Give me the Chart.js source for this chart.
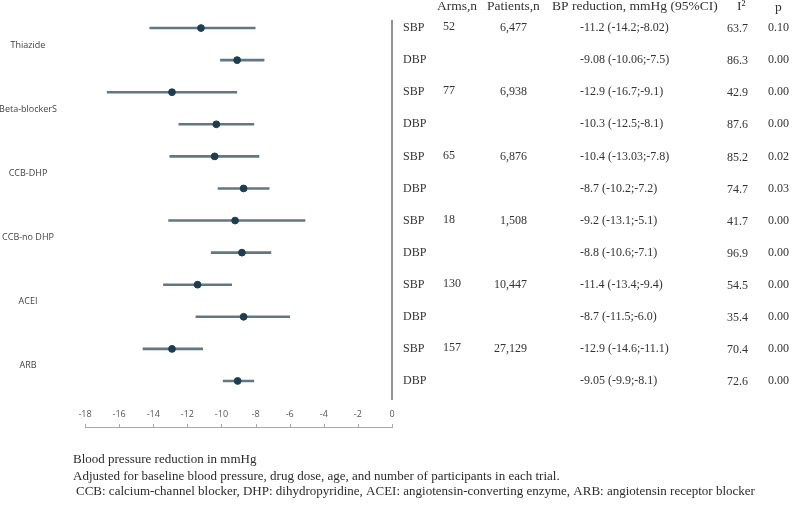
<!DOCTYPE html>
<html>
<head>
<meta charset="utf-8">
<script src="https://cdn.jsdelivr.net/npm/chart.js@4.4.1/dist/chart.umd.min.js"></script>
<style>
  body { margin: 0; background: #fff; }
  #wrap { width: 800px; height: 516px; position: relative; }
</style>
</head>
<body>
<div id="wrap"><canvas id="forest"></canvas></div>
<script>
// drug classes, two rows each (SBP then DBP)
const groups = ['Thiazide', 'Beta-blockerS', 'CCB-DHP', 'CCB-no DHP', 'ACEI', 'ARB'];
const measures = ['SBP', 'DBP'];
const rowKeys = groups.flatMap(g => measures.map(m => g + ' ' + m));

// pooled reduction and 95% CI, mmHg
const estimates = [-11.2, -9.08, -12.9, -10.3, -10.4, -8.7, -9.2, -8.8, -11.4, -8.7, -12.9, -9.05];
const lower = [-14.2, -10.06, -16.7, -12.5, -13.03, -10.2, -13.1, -10.6, -13.4, -11.5, -14.6, -9.9];
const upper = [-8.02, -7.5, -9.1, -8.1, -7.8, -7.2, -5.1, -7.1, -9.4, -6.0, -11.1, -8.1];
const ciText = ['-11.2 (-14.2;-8.02)', '-9.08 (-10.06;-7.5)', '-12.9 (-16.7;-9.1)', '-10.3 (-12.5;-8.1)',
    '-10.4 (-13.03;-7.8)', '-8.7 (-10.2;-7.2)', '-9.2 (-13.1;-5.1)', '-8.8 (-10.6;-7.1)',
    '-11.4 (-13.4;-9.4)', '-8.7 (-11.5;-6.0)', '-12.9 (-14.6;-11.1)', '-9.05 (-9.9;-8.1)'];

// per class
const arms = ['52', '77', '65', '18', '130', '157'];
const patients = ['6,477', '6,938', '6,876', '1,508', '10,447', '27,129'];

// per row
const i2 = ['63.7', '86.3', '42.9', '87.6', '85.2', '74.7', '41.7', '96.9', '54.5', '35.4', '70.4', '72.6'];
const pValues = ['0.10', '0.00', '0.00', '0.00', '0.02', '0.03', '0.00', '0.00', '0.00', '0.00', '0.00', '0.00'];

const xTicks = [-18, -16, -14, -12, -10, -8, -6, -4, -2, 0];
const headers = ['Arms,n', 'Patients,n', 'BP reduction, mmHg (95%CI)', 'I²', 'p'];
const footnotes = [
    'Blood pressure reduction in mmHg',
    'Adjusted for baseline blood pressure, drug dose, age, and number of participants in each trial.',
    'CCB: calcium-channel blocker, DHP: dihydropyridine, ACEI: angiotensin-converting enzyme, ARB: angiotensin receptor blocker'
];

const serif = '"Liberation Serif", "DejaVu Serif", serif';
const sans = '"Open Sans", "Noto Sans", sans-serif';

// axis line, zero line, labels and table drawn against the chart scales
const forestExtras = {
    id: 'forestExtras',
    afterDraw(chart) {
        const ctx = chart.ctx;
        const xs = chart.scales.x;
        const ys = chart.scales.y;
        ctx.save();

        // vertical reference at 0
        const x0 = xs.getPixelForValue(0);
        ctx.strokeStyle = '#6f6f6f';
        ctx.lineWidth = 1.5;
        ctx.beginPath();
        ctx.moveTo(x0, 20);
        ctx.lineTo(x0, 400);
        ctx.stroke();

        // axis line under the tick labels, tick marks pointing up
        ctx.strokeStyle = '#a8a8a8';
        ctx.lineWidth = 1;
        ctx.beginPath();
        ctx.moveTo(xs.getPixelForValue(xTicks[0]), 427.5);
        ctx.lineTo(xs.getPixelForValue(xTicks[xTicks.length - 1]) + 1, 427.5);
        xTicks.forEach(v => {
            const px = Math.round(xs.getPixelForValue(v)) + 0.5;
            ctx.moveTo(px, 427.5);
            ctx.lineTo(px, 424);
        });
        ctx.stroke();

        // class labels between their two rows
        ctx.fillStyle = '#444';
        ctx.font = '9px ' + sans;
        ctx.textAlign = 'center';
        ctx.textBaseline = 'middle';
        groups.forEach((g, i) => {
            const y = (ys.getPixelForValue(2 * i) + ys.getPixelForValue(2 * i + 1)) / 2 + 1;
            ctx.fillText(g, 28, y);
        });

        // header
        ctx.fillStyle = '#333';
        ctx.font = '13.5px ' + serif;
        ctx.textAlign = 'left';
        ctx.fillText(headers[0], 437, 6);
        ctx.fillText(headers[1], 487, 6);
        ctx.fillText(headers[2], 552, 6);
        ctx.fillText(headers[3], 737, 6);
        ctx.fillText(headers[4], 775, 7);

        // table rows
        ctx.font = '12px ' + serif;
        rowKeys.forEach((k, r) => {
            const y = ys.getPixelForValue(r);
            const g = Math.floor(r / 2);
            ctx.textAlign = 'left';
            ctx.fillText(measures[r % 2], 403, y);
            if (r % 2 === 0) {
                ctx.fillText(arms[g], 443, y - 1);
                ctx.textAlign = 'right';
                ctx.fillText(patients[g], 527, y);
                ctx.textAlign = 'left';
            }
            ctx.fillText(ciText[r], 580, y);
            ctx.fillText(i2[r], 727, y + 1);
            ctx.fillText(pValues[r], 768, y);
        });

        // footnotes
        ctx.fillStyle = '#2b2b2b';
        ctx.font = '13px ' + serif;
        ctx.fillText(footnotes[0], 73, 460);
        ctx.fillText(footnotes[1], 73, 477);
        ctx.fillText(footnotes[2], 76, 492);

        ctx.restore();
    }
};

new Chart(document.getElementById('forest'), {
    type: 'bar',
    data: {
        labels: rowKeys,
        datasets: [
            {
                label: '95% CI',
                data: lower.map((l, i) => [l, upper[i]]),
                backgroundColor: '#5e7884',
                barThickness: 2,
                order: 2
            },
            {
                label: 'Estimate',
                type: 'line',
                indexAxis: 'y',
                data: estimates,
                showLine: false,
                pointStyle: 'circle',
                pointRadius: 3.4,
                pointBackgroundColor: '#1b3f52',
                pointBorderColor: '#1b3f52',
                pointBorderWidth: 1,
                order: 1
            }
        ]
    },
    options: {
        indexAxis: 'y',
        responsive: true,
        maintainAspectRatio: false,
        animation: false,
        layout: {
            padding: { left: 85, right: 408, top: 12, bottom: 0 }
        },
        plugins: {
            legend: { display: false },
            tooltip: { enabled: false }
        },
        scales: {
            x: {
                type: 'linear',
                position: 'bottom',
                min: -18,
                max: 0,
                afterBuildTicks: scale => {
                    scale.ticks = xTicks.map(v => ({ value: v }));
                },
                afterFit: scale => {
                    scale.height = 119;
                },
                grid: { display: false, drawTicks: false },
                border: { display: false },
                ticks: {
                    color: '#555',
                    padding: 12,
                    font: { size: 9, family: sans },
                    maxRotation: 0
                }
            },
            y: {
                type: 'category',
                display: false,
                offset: true,
                grid: { display: false }
            }
        }
    },
    plugins: [forestExtras]
});
</script>
</body>
</html>
